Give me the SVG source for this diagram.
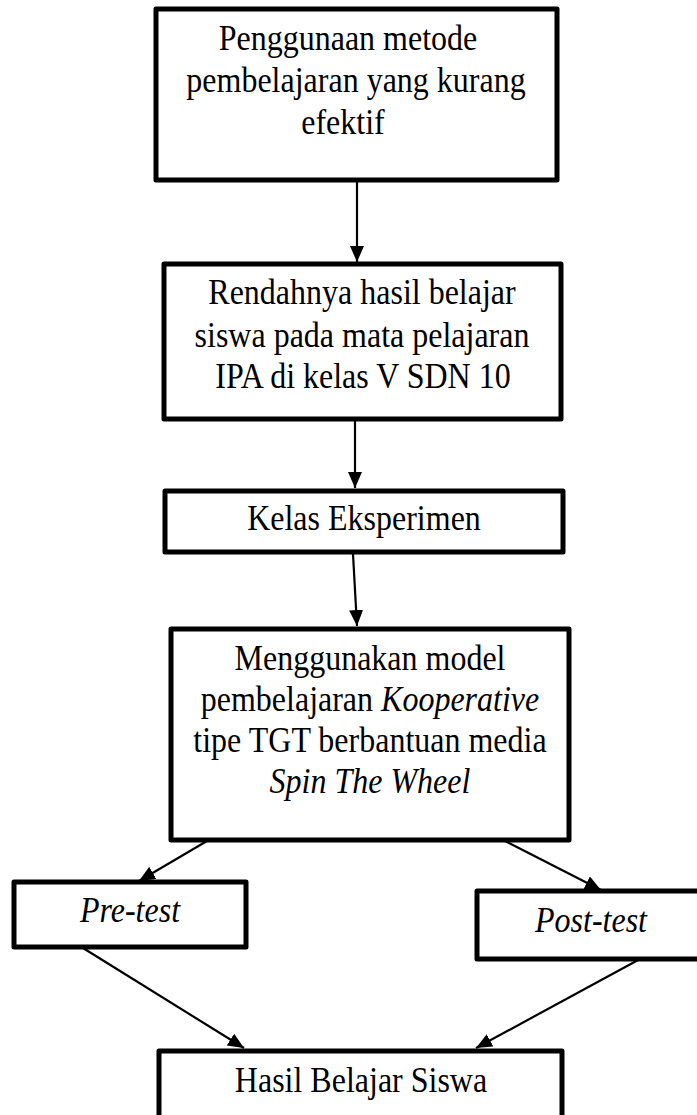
<svg xmlns="http://www.w3.org/2000/svg" width="697" height="1115" viewBox="0 0 697 1115">
<style>
.box{fill:#fff;stroke:#000;stroke-width:5;stroke-linejoin:round}
.lbl{font-family:"Liberation Serif","Times New Roman",serif;font-size:32px;fill:#000;text-anchor:middle}
.it{font-style:italic}
.con{stroke:#000;stroke-width:2.2;fill:none}
</style>
<defs>
<marker id="ah" markerUnits="userSpaceOnUse" markerWidth="18" markerHeight="16" refX="16" refY="7" orient="auto">
<path d="M0,0 L16,7 L0,14 z" fill="#000"/>
</marker>
</defs>
<rect width="697" height="1115" fill="#fff"/>
<g id="connectors">
<line class="con" x1="357" y1="182" x2="357" y2="262" marker-end="url(#ah)"/>
<line class="con" x1="355" y1="421" x2="355" y2="488" marker-end="url(#ah)"/>
<line class="con" x1="353" y1="554" x2="357" y2="626" marker-end="url(#ah)"/>
<line class="con" x1="207" y1="841" x2="139" y2="881" marker-end="url(#ah)"/>
<line class="con" x1="505" y1="841" x2="601" y2="890" marker-end="url(#ah)"/>
<line class="con" x1="83" y1="948" x2="244" y2="1048" marker-end="url(#ah)"/>
<line class="con" x1="640" y1="959" x2="476" y2="1048" marker-end="url(#ah)"/>
</g>
<g id="n1">
<rect class="box" x="156" y="9" width="401" height="171"/>
<text class="lbl" transform="translate(348,50) scale(1,1.12)">Penggunaan metode</text>
<text class="lbl" transform="translate(356,92) scale(1,1.12)">pembelajaran yang kurang</text>
<text class="lbl" transform="translate(343,134) scale(1,1.12)">efektif</text>
</g>
<g id="n2">
<rect class="box" x="164" y="264" width="397" height="155"/>
<text class="lbl" transform="translate(362,304) scale(1,1.12)">Rendahnya hasil belajar</text>
<text class="lbl" transform="translate(362,347) scale(1,1.12)">siswa pada mata pelajaran</text>
<text class="lbl" transform="translate(363,388) scale(1,1.12)">IPA di kelas V SDN 10</text>
</g>
<g id="n3">
<rect class="box" x="165" y="491" width="398" height="61"/>
<text class="lbl" transform="translate(364,530) scale(1,1.12)">Kelas Eksperimen</text>
</g>
<g id="n4">
<rect class="box" x="171" y="629" width="398" height="211"/>
<text class="lbl" transform="translate(370,670) scale(1,1.12)">Menggunakan model</text>
<text class="lbl" transform="translate(370,711) scale(1,1.12)">pembelajaran <tspan class="it">Kooperative</tspan></text>
<text class="lbl" transform="translate(370,752) scale(1,1.12)">tipe TGT berbantuan media</text>
<text class="lbl it" transform="translate(370,793) scale(1,1.12)">Spin The Wheel</text>
</g>
<g id="n5">
<rect class="box" x="14" y="882" width="232" height="65"/>
<text class="lbl it" transform="translate(130,922) scale(1,1.12)">Pre-test</text>
</g>
<g id="n6">
<rect class="box" x="477" y="891" width="232" height="68"/>
<text class="lbl it" transform="translate(591,932) scale(1,1.12)">Post-test</text>
</g>
<g id="n7">
<rect class="box" x="159" y="1051" width="403" height="80"/>
<text class="lbl" transform="translate(361,1092) scale(1,1.12)">Hasil Belajar Siswa</text>
</g>
</svg>
